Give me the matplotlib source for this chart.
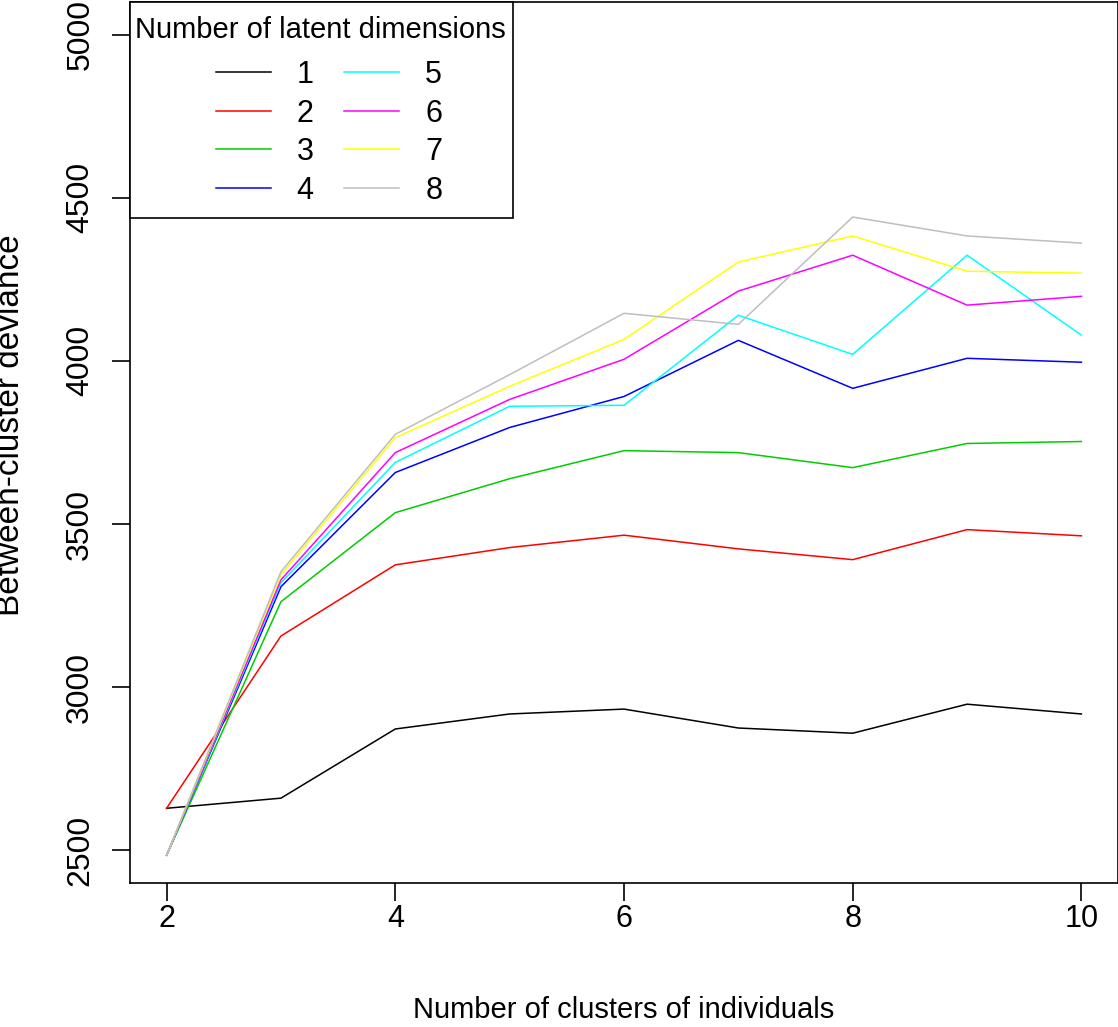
import matplotlib
matplotlib.use('Agg')
import matplotlib.pyplot as plt
from matplotlib.patches import Rectangle

# 클러스터 수 (x축)
n_clusters = [2, 3, 4, 5, 6, 7, 8, 9, 10]

# 잠재 차원 수별 between-cluster deviance
dev_1 = [2629, 2660, 2872, 2918, 2933, 2875, 2859, 2948, 2918]
dev_2 = [2629, 3157, 3375, 3428, 3466, 3424, 3391, 3483, 3464]
dev_3 = [2485, 3262, 3535, 3639, 3725, 3719, 3673, 3747, 3753]
dev_4 = [2485, 3308, 3658, 3796, 3891, 4063, 3916, 4008, 3996]
dev_5 = [2485, 3320, 3689, 3861, 3864, 4140, 4020, 4324, 4079]
dev_6 = [2485, 3329, 3719, 3882, 4005, 4214, 4324, 4171, 4198]
dev_7 = [2485, 3345, 3765, 3922, 4066, 4303, 4383, 4275, 4269]
dev_8 = [2485, 3354, 3775, 3958, 4146, 4112, 4441, 4383, 4361]

series = [dev_1, dev_2, dev_3, dev_4, dev_5, dev_6, dev_7, dev_8]
dims = ['1', '2', '3', '4', '5', '6', '7', '8']
colors = ['#000000', '#FF0000', '#00CD00', '#0000FF',
          '#00FFFF', '#FF00FF', '#FFFF00', '#BEBEBE']

plt.rcParams['font.family'] = ['Liberation Sans', 'DejaVu Sans']
FS_H = 21   # 가로 글자
FS_V = 23   # 세로 글자 (눈금)

fig = plt.figure(figsize=(11.18, 10.27), dpi=100)
W, H = 1118, 1027
ax = fig.add_axes([130 / W, (H - 883) / H, (1118 - 130) / W, (883 - 2) / H])

for vals, c, lab in zip(series, colors, dims):
    ax.plot(n_clusters, vals, color=c, lw=1.1, label=lab)

# R 기본 4% 여백
ax.set_xlim(2 - 0.32, 10 + 0.32)
ax.set_ylim(2500 - 100, 5000 + 100)
ax.set_xticks([2, 4, 6, 8, 10])
ax.set_yticks([2500, 3000, 3500, 4000, 4500, 5000])
ax.tick_params(direction='out', length=13, width=1.2)
ax.tick_params(axis='x', labelsize=FS_H + 1, pad=2)
ax.tick_params(axis='y', labelsize=FS_V, pad=12)
for lbl in ax.get_yticklabels():
    lbl.set_rotation(90)
    lbl.set_va('center')
for sp in ax.spines.values():
    sp.set_linewidth(1.2)

ax.set_xlabel('Number of clusters of individuals', fontsize=FS_H, va='center')
ax.xaxis.set_label_coords(0.5, (883 - 1010) / 881)
ax.set_ylabel('Between-cluster deviance', fontsize=24, va='center')
ax.yaxis.set_label_coords((11 - 130) / 988, (883 - 425) / 881)

# 범례 틀과 제목
def ax_x(px):
    return (px - 130) / 988

def ax_y(py):
    return (883 - py) / 881

ax.add_patch(Rectangle((0, ax_y(218)), ax_x(513), 1 - ax_y(218),
                       transform=ax.transAxes, facecolor='white',
                       edgecolor='black', lw=1.2, zorder=5, clip_on=False))
ax.text(ax_x(320), ax_y(30), 'Number of latent dimensions', fontsize=FS_H,
        ha='center', va='center', transform=ax.transAxes, zorder=6)

leg = ax.legend(ncol=2, loc='upper center', bbox_to_anchor=(ax_x(329), ax_y(60)),
                borderaxespad=0, borderpad=0, frameon=False, fontsize=FS_H + 1,
                handlelength=1.8, handletextpad=0.85, columnspacing=1.0,
                labelspacing=0.28)
leg.set_zorder(7)

fig.savefig('out.png', dpi=100)
